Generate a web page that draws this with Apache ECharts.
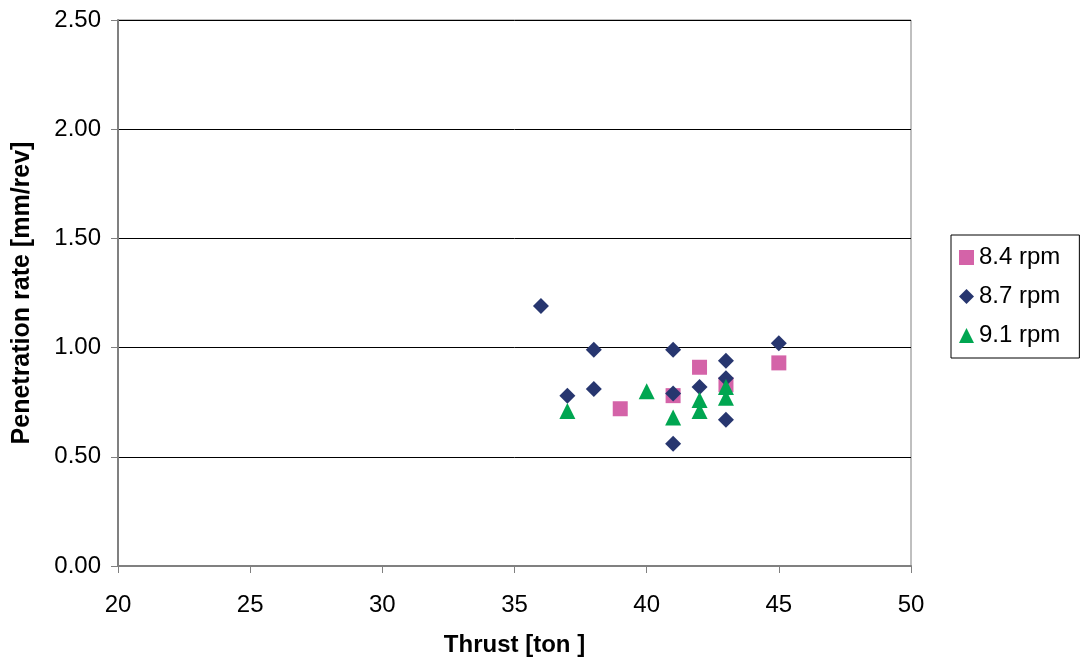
<!DOCTYPE html>
<html>
<head>
<meta charset="utf-8">
<script src="https://cdn.jsdelivr.net/npm/echarts@6/dist/echarts.min.js"></script>
<style>
  html, body { margin: 0; padding: 0; background: #fff; }
  #chart { width: 1082px; height: 666px; }
</style>
</head>
<body>
<div id="chart"></div>
<script>
// Penetration rate vs thrust for three cutterhead speeds
const rpm84 = [[39, 0.72], [41, 0.78], [42, 0.91], [43, 0.83], [45, 0.93]];
const rpm87 = [[36, 1.19], [37, 0.78], [38, 0.99], [38, 0.81], [41, 0.99], [41, 0.79],
               [41, 0.56], [42, 0.82], [43, 0.94], [43, 0.86], [43, 0.67], [45, 1.02]];
const rpm91 = [[37, 0.71], [40, 0.80], [41, 0.68], [42, 0.76], [42, 0.71], [43, 0.82], [43, 0.77]];
const seriesNames = ['8.4 rpm', '8.7 rpm', '9.1 rpm'];

const FONT = '"Liberation Sans", Arial, sans-serif';

const chart = echarts.init(document.getElementById('chart'));
chart.setOption({
  animation: false,
  backgroundColor: '#fff',
  grid: {
    left: 118, top: 20, width: 793, height: 546,
    show: true, borderColor: '#808080', borderWidth: 1, backgroundColor: 'transparent'
  },
  legend: {
    orient: 'vertical',
    left: 951, top: 235,
    padding: [10, 19, 10, 8],
    itemGap: 14,
    itemWidth: 15, itemHeight: 15,
    borderColor: '#000', borderWidth: 1,
    textStyle: { fontFamily: FONT, fontSize: 24, color: '#000', lineHeight: 25 },
    data: seriesNames
  },
  xAxis: {
    type: 'value', min: 20, max: 50, interval: 5,
    name: 'Thrust [ton ]', nameLocation: 'middle', nameGap: 67,
    nameTextStyle: { fontFamily: FONT, fontSize: 24, fontWeight: 'bold', color: '#000' },
    axisLine: { show: true, lineStyle: { color: '#808080', width: 2 } },
    axisTick: { show: true, length: 7, lineStyle: { color: '#808080' } },
    axisLabel: { fontFamily: FONT, fontSize: 24, color: '#000', margin: 27 },
    splitLine: { show: false }
  },
  yAxis: {
    type: 'value', min: 0, max: 2.5, interval: 0.5,
    name: 'Penetration rate [mm/rev]', nameLocation: 'middle', nameGap: 83,
    nameTextStyle: { fontFamily: FONT, fontSize: 25, fontWeight: 'bold', color: '#000' },
    axisLine: { show: true, lineStyle: { color: '#808080', width: 2 } },
    axisTick: { show: true, length: 7, lineStyle: { color: '#808080' } },
    axisLabel: {
      fontFamily: FONT, fontSize: 24, color: '#000', margin: 17,
      formatter: v => v.toFixed(2)
    },
    splitLine: { show: true, lineStyle: { color: '#000', width: 1 } }
  },
  series: [
    {
      name: seriesNames[0], type: 'scatter', data: rpm84,
      symbol: 'rect', symbolSize: 15,
      itemStyle: { color: '#D463A8', opacity: 1 }, z: 2
    },
    {
      name: seriesNames[1], type: 'scatter', data: rpm87,
      symbol: 'diamond', symbolSize: 16,
      itemStyle: { color: '#27366F', opacity: 1 }, z: 3
    },
    {
      name: seriesNames[2], type: 'scatter', data: rpm91,
      symbol: 'triangle', symbolSize: 16,
      itemStyle: { color: '#00A651', opacity: 1 }, z: 4
    }
  ]
});
</script>
</body>
</html>
